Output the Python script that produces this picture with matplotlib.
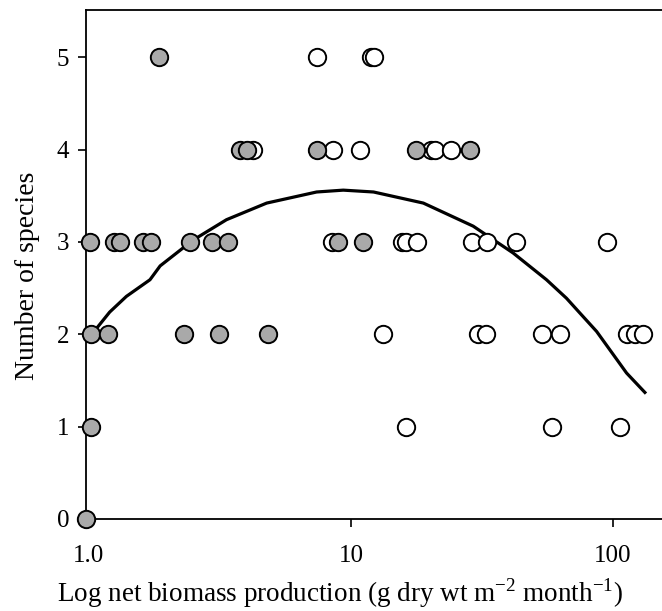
import numpy as np
import matplotlib
matplotlib.use('Agg')
import matplotlib.pyplot as plt

plt.rcParams['font.family'] = ['Liberation Serif', 'DejaVu Serif']
plt.rcParams['mathtext.fontset'] = 'custom'
plt.rcParams['mathtext.rm'] = 'Liberation Serif'

# filled (grey) sites
filled_x = [0.975, 1.02, 1.02, 1.18, 2.31, 3.14, 4.83,
            1.01, 1.25, 1.31, 1.61, 1.72, 2.43, 2.94, 3.39, 8.94, 11.1,
            3.77, 4.0, 7.40, 17.7, 28.5,
            1.85]
filled_y = [0, 1, 2, 2, 2, 2, 2,
            3, 3, 3, 3, 3, 3, 3, 3, 3, 3,
            4, 4, 4, 4, 4,
            5]

# open sites
open_x = [16.2, 58.7, 106.3,
          13.3, 30.6, 32.8, 53.5, 63.1, 112.8, 121.3, 130.5,
          8.44, 15.6, 16.3, 17.8, 28.9, 33.0, 42.6, 95.1,
          4.24, 8.51, 10.8, 20.3, 20.9, 24.2,
          7.40, 11.9, 12.2]
open_y = [1, 1, 1,
          2, 2, 2, 2, 2, 2, 2, 2,
          3, 3, 3, 3, 3, 3, 3, 3,
          4, 4, 4, 4, 4, 4,
          5, 5, 5]

# fitted curve
curve_x = [0.98, 1.20, 1.39, 1.71, 1.87, 2.50, 3.35, 4.77, 7.40, 9.35,
           12.2, 18.9, 29.3, 41.6, 55.8, 66.5, 74.8, 86.7, 112.8, 132.5]
curve_y = [1.93, 2.24, 2.41, 2.59, 2.74, 3.02, 3.24, 3.42, 3.54, 3.56,
           3.54, 3.42, 3.17, 2.88, 2.59, 2.39, 2.23, 2.03, 1.58, 1.37]

fig = plt.figure(figsize=(6.62, 6.11), dpi=100)
ax = fig.add_axes([0.130, 0.1506, 0.870, 0.833])

ax.plot(curve_x, curve_y, color='black', lw=2.3, zorder=2)
ax.plot(open_x, open_y, 'o', ms=12.5, mfc='white', mec='black', mew=1.4,
        zorder=3, clip_on=False)
ax.plot(filled_x, filled_y, 'o', ms=12.5, mfc='#a9a9a9', mec='black', mew=1.4,
        zorder=4, clip_on=False)

ax.set_xscale('log')
ax.set_xlim(0.975, 154)
ax.set_ylim(0, 5.51)
ax.set_xticks([1, 10, 100])
ax.set_xticklabels(['1.0', '10', '100'])
ax.xaxis.set_minor_locator(matplotlib.ticker.NullLocator())
ax.set_yticks([0, 1, 2, 3, 4, 5])

ax.spines['right'].set_visible(False)
for s in ['left', 'bottom', 'top']:
    ax.spines[s].set_linewidth(1.3)

ax.tick_params(axis='both', direction='out', length=6, width=1.2,
               labelsize=18)
ax.tick_params(axis='x', pad=13)
ax.tick_params(axis='y', pad=6)

ax.set_xlabel('Log net biomass production (g dry wt m$^{-2}$ month$^{-1}$)',
              fontsize=19.5, labelpad=6)
ax.xaxis.label.set_x(0.441)
ax.set_ylabel('Number of species', fontsize=20, labelpad=12)
ax.yaxis.label.set_y(0.477)

fig.savefig('out.png', dpi=100)
